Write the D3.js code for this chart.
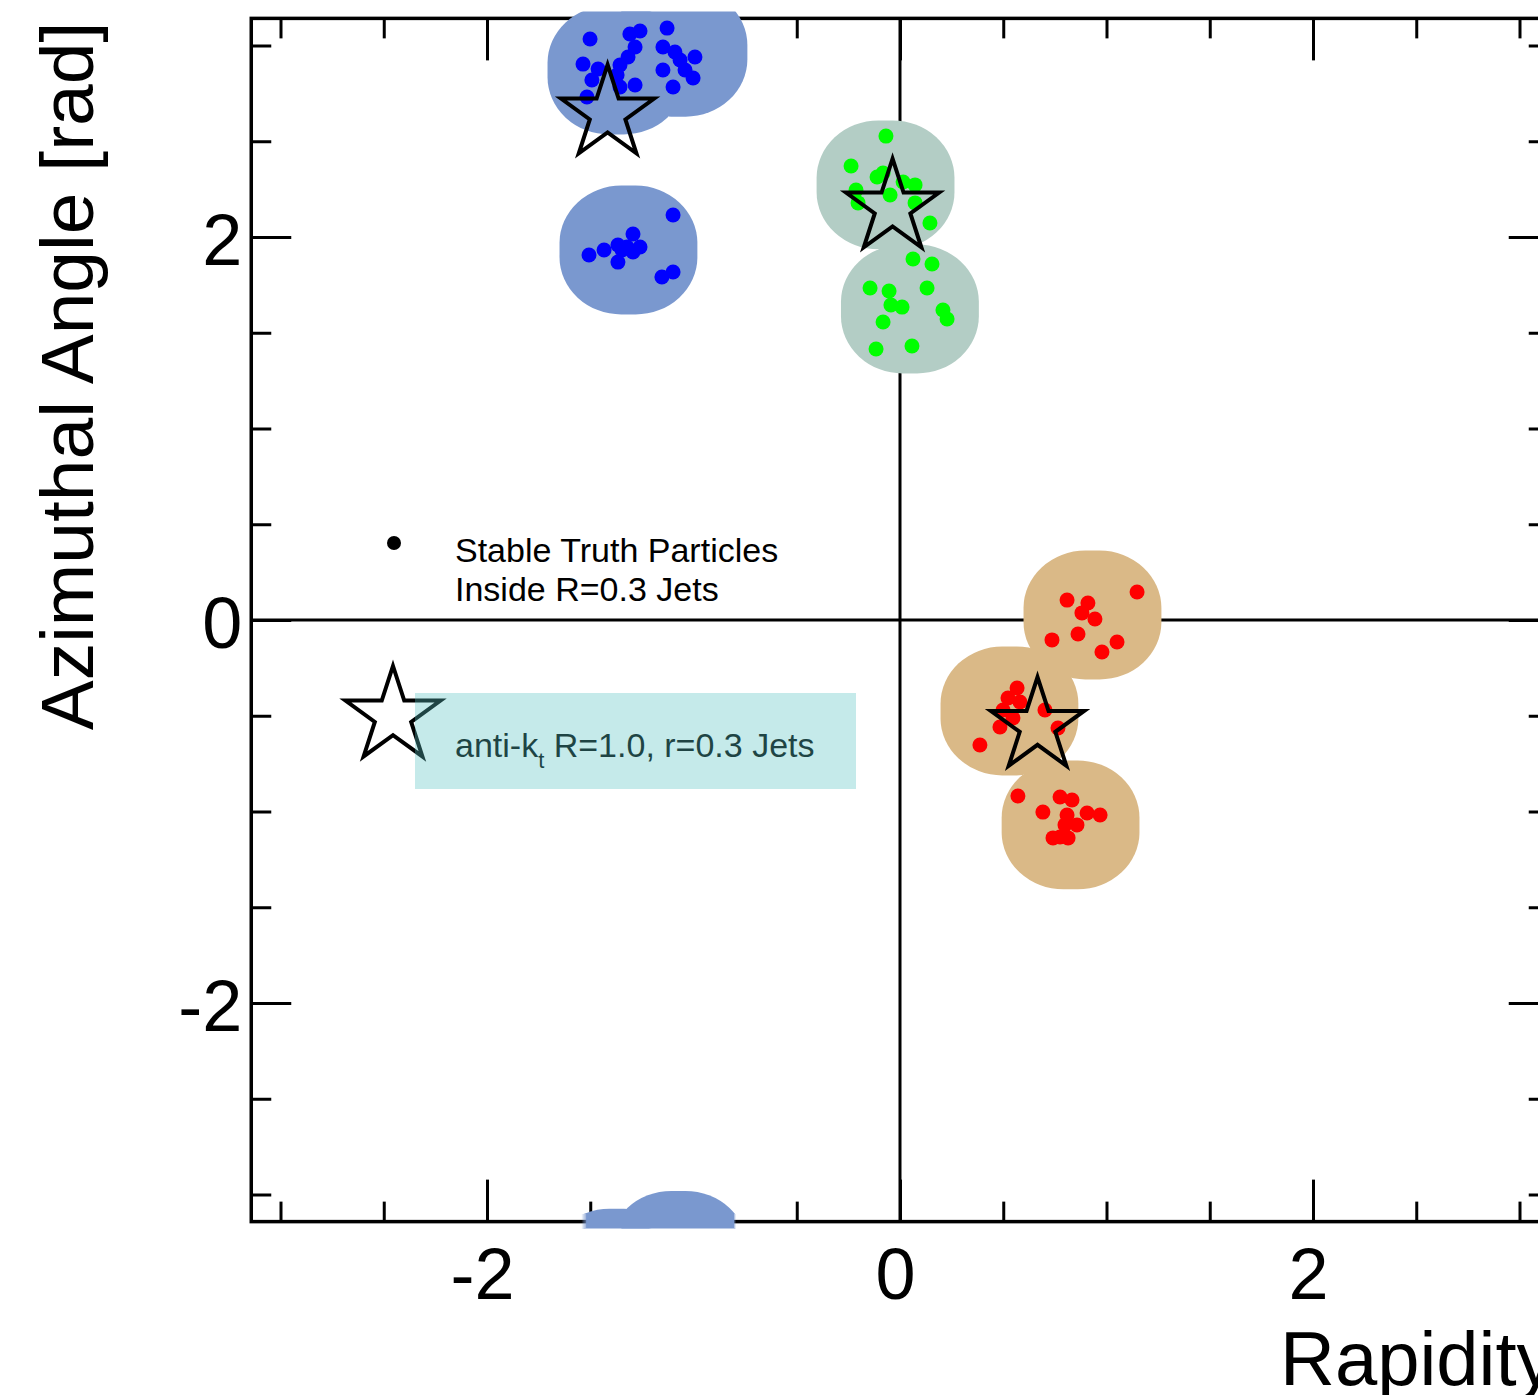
<!DOCTYPE html>
<html>
<head>
<meta charset="utf-8">
<script src="https://cdn.jsdelivr.net/npm/d3@7"></script>
<style>
  body { margin: 0; background: white; }
  svg { display: block; font-family: "Liberation Sans", Arial, sans-serif; }
</style>
</head>
<body>
<div id="container"></div>
<script>
let w = 1538;
let h = 1395;

// DATA  (rapidity, azimuthal angle)
let subjetRadius = 0.3;

let blueSubjets  = [[-1.373, 2.872], [-1.073, 2.965], [-1.315, 1.932]];
let greenSubjets = [[-0.070, 2.272], [0.048, 1.624]];
let redSubjets   = [[0.932, 0.026], [0.530, -0.475], [0.826, -1.070]];

// anti-kt R=1.0 jet axes (stars)
let jetAxes = [[-1.416, 2.644], [-0.036, 2.153], [0.666, -0.554]];

let blueParticles = [
  [-1.501, 3.034], [-1.308, 3.060], [-1.259, 3.076], [-1.128, 3.091], [-1.283, 2.992],
  [-1.317, 2.940], [-1.356, 2.898], [-1.535, 2.903], [-1.462, 2.877], [-1.492, 2.820],
  [-1.370, 2.846], [-1.356, 2.783], [-1.283, 2.794], [-1.516, 2.731], [-1.148, 2.992],
  [-1.090, 2.966], [-1.065, 2.924], [-0.993, 2.940], [-1.148, 2.872], [-1.041, 2.872],
  [-1.002, 2.830], [-1.099, 2.783],
  [-1.506, 1.906], [-1.433, 1.932], [-1.366, 1.958], [-1.346, 1.932], [-1.293, 2.016],
  [-1.293, 1.922], [-1.259, 1.948], [-1.366, 1.869], [-1.322, 1.948], [-1.099, 2.115],
  [-1.153, 1.791], [-1.099, 1.817]
];
let greenParticles = [
  [-0.068, 2.527], [-0.237, 2.371], [-0.111, 2.313], [-0.082, 2.334], [0.015, 2.287],
  [0.073, 2.272], [-0.213, 2.245], [-0.203, 2.178], [-0.048, 2.219], [0.073, 2.178],
  [0.145, 2.073], [0.063, 1.885], [0.155, 1.859], [-0.145, 1.734], [-0.053, 1.718],
  [0.131, 1.734], [-0.044, 1.645], [0.010, 1.634], [0.208, 1.619], [0.228, 1.572],
  [-0.082, 1.556], [-0.116, 1.415], [0.058, 1.431]
];
let redParticles = [
  [1.148, 0.146], [0.809, 0.104], [0.910, 0.089], [0.881, 0.037], [0.944, 0.005],
  [0.862, -0.073], [0.736, -0.104], [1.051, -0.115], [0.978, -0.167],
  [0.567, -0.355], [0.523, -0.407], [0.581, -0.428], [0.499, -0.470], [0.547, -0.512],
  [0.702, -0.470], [0.484, -0.559], [0.765, -0.564], [0.387, -0.653],
  [0.571, -0.919], [0.775, -0.924], [0.833, -0.940], [0.692, -1.003], [0.809, -1.018],
  [0.906, -1.008], [0.969, -1.018], [0.799, -1.070], [0.857, -1.070], [0.775, -1.133],
  [0.741, -1.138], [0.814, -1.138]
];

let majorTicks = [-2, 0, 2];
let minorTicks = [-3, -2.5, -2, -1.5, -1, -0.5, 0, 0.5, 1, 1.5, 2, 2.5, 3];

let jets = [
  {subjets: blueSubjets,  particles: blueParticles,  area: "#7a98cf", dot: "#0000ff"},
  {subjets: greenSubjets, particles: greenParticles, area: "#b3cdc5", dot: "#00ff00"},
  {subjets: redSubjets,   particles: redParticles,   area: "#dab987", dot: "#ff0000"}
];

// SCALES
let x = d3.scaleLinear().domain([-Math.PI, Math.PI]).range([900 - 206.5 * Math.PI, 900 + 206.5 * Math.PI]);
let y = d3.scaleLinear().domain([-Math.PI, Math.PI]).range([620 + 191.5 * Math.PI, 620 - 191.5 * Math.PI]);
let pLeft = x.range()[0], pRight = x.range()[1];
let pTop = y.range()[1], pBottom = y.range()[0];

let viz = d3.select("#container").append("svg")
    .attr("width", w)
    .attr("height", h);

let defs = viz.append("defs");
defs.append("clipPath").attr("id", "band")
  .append("rect")
    .attr("x", pLeft).attr("y", pTop)
    .attr("width", pRight - pLeft).attr("height", pBottom - pTop);
defs.append("filter").attr("id", "grow")
    .attr("filterUnits", "userSpaceOnUse")
    .attr("x", 0).attr("y", 0).attr("width", w).attr("height", h)
  .append("feMorphology")
    .attr("operator", "dilate")
    .attr("radius", 6.5);

// AXES (ticks inward on all four sides)
function ticks(axis, transform, values, size, labels) {
  let g = viz.append("g")
    .attr("transform", transform)
    .call(axis.tickValues(values).tickSize(-size).tickPadding(0)
      .tickFormat(labels ? (d => String(d)) : ""));
  g.select(".domain").remove();
  g.selectAll(".tick line").attr("stroke", "black").attr("stroke-width", 3);
  return g;
}
ticks(d3.axisBottom(x), `translate(0,${pBottom})`, minorTicks, 20, false);
let xLab = ticks(d3.axisBottom(x), `translate(0,${pBottom})`, majorTicks, 42, true);
xLab.selectAll("text")
    .attr("font-size", 72).attr("font-family", "Liberation Sans, Arial, sans-serif")
    .attr("fill", "black").attr("y", 26).attr("dx", -5);
ticks(d3.axisTop(x), `translate(0,${pTop})`, minorTicks, 20, false);
ticks(d3.axisTop(x), `translate(0,${pTop})`, majorTicks, 42, false);

ticks(d3.axisLeft(y), `translate(${pLeft},0)`, minorTicks, 20, false);
let yLab = ticks(d3.axisLeft(y), `translate(${pLeft},0)`, majorTicks, 40, true);
yLab.selectAll("text")
    .attr("font-size", 72).attr("font-family", "Liberation Sans, Arial, sans-serif")
    .attr("fill", "black").attr("x", -9).attr("dy", "0.38em");
ticks(d3.axisRight(y), `translate(${pRight},0)`, minorTicks, 20, false);
ticks(d3.axisRight(y), `translate(${pRight},0)`, majorTicks, 40, false);

// frame + zero lines
viz.append("rect")
    .attr("x", pLeft).attr("y", pTop)
    .attr("width", pRight - pLeft).attr("height", pBottom - pTop)
    .attr("fill", "none").attr("stroke", "black").attr("stroke-width", 3.5);
viz.append("line")
    .attr("x1", x(0)).attr("x2", x(0)).attr("y1", pTop).attr("y2", pBottom)
    .attr("stroke", "black").attr("stroke-width", 3);
viz.append("line")
    .attr("x1", pLeft).attr("x2", pRight).attr("y1", y(0)).attr("y2", y(0))
    .attr("stroke", "black").attr("stroke-width", 3);

// axis titles
viz.append("text")
    .attr("transform", `translate(93,376) rotate(-90)`)
    .attr("text-anchor", "middle")
    .attr("font-size", 75)
    .text("Azimuthal Angle [rad]");
viz.append("text")
    .attr("x", 1280).attr("y", 1385)
    .attr("font-size", 76)
    .text("Rapidity");

// SUBJET AREAS (R=0.3 discs, wrapped in phi)
let rx = x(subjetRadius) - x(0);
let ry = y(0) - y(subjetRadius);
let shifts = [-2 * Math.PI, 0, 2 * Math.PI];
jets.forEach(function(jet) {
  let g = viz.append("g").attr("filter", "url(#grow)")
    .append("g").attr("clip-path", "url(#band)");
  jet.subjets.forEach(function(c) {
    g.selectAll(null).data(shifts).enter()
      .append("ellipse")
        .attr("cx", x(c[0]))
        .attr("cy", d => y(c[1] + d))
        .attr("rx", rx).attr("ry", ry)
        .attr("fill", jet.area);
  });
});

// PARTICLES
jets.forEach(function(jet) {
  viz.append("g").selectAll("circle").data(jet.particles).enter()
    .append("circle")
      .attr("cx", d => x(d[0]))
      .attr("cy", d => y(d[1]))
      .attr("r", 7.5)
      .attr("fill", jet.dot);
});

// STARS
function starPath(R) {
  let r = R * 0.382;
  let pts = [];
  for (let i = 0; i < 10; i++) {
    let a = -Math.PI / 2 + i * Math.PI / 5;
    let rr = i % 2 == 0 ? R : r;
    pts.push([rr * Math.cos(a), rr * Math.sin(a)]);
  }
  return "M" + pts.map(p => p.join(",")).join("L") + "Z";
}
viz.append("g").selectAll("path").data(jetAxes).enter()
  .append("path")
    .attr("d", starPath(49))
    .attr("transform", d => `translate(${x(d[0])},${y(d[1])})`)
    .attr("fill", "none")
    .attr("stroke", "black")
    .attr("stroke-width", 4)
    .attr("stroke-linejoin", "miter");

// LEGEND
viz.append("circle").attr("cx", 394).attr("cy", 543).attr("r", 7).attr("fill", "black");
let leg1 = viz.append("text").attr("x", 455).attr("font-size", 34).attr("fill", "black");
leg1.append("tspan").attr("x", 455).attr("y", 562).text("Stable Truth Particles");
leg1.append("tspan").attr("x", 455).attr("y", 601).text("Inside R=0.3 Jets");

viz.append("path")
    .attr("d", starPath(50))
    .attr("transform", "translate(393,716)")
    .attr("fill", "none").attr("stroke", "black").attr("stroke-width", 4);
let leg2 = viz.append("text").attr("x", 455).attr("y", 757).attr("font-size", 34).attr("fill", "black");
leg2.append("tspan").text("anti-k");
leg2.append("tspan").attr("font-size", 22).attr("dy", 11).text("t");
leg2.append("tspan").attr("dy", -11).text(" R=1.0, r=0.3 Jets");
viz.append("rect")
    .attr("x", 415).attr("y", 693).attr("width", 441).attr("height", 96)
    .attr("fill", "rgb(89,195,195)").attr("opacity", 0.35);
</script>
</body>
</html>
